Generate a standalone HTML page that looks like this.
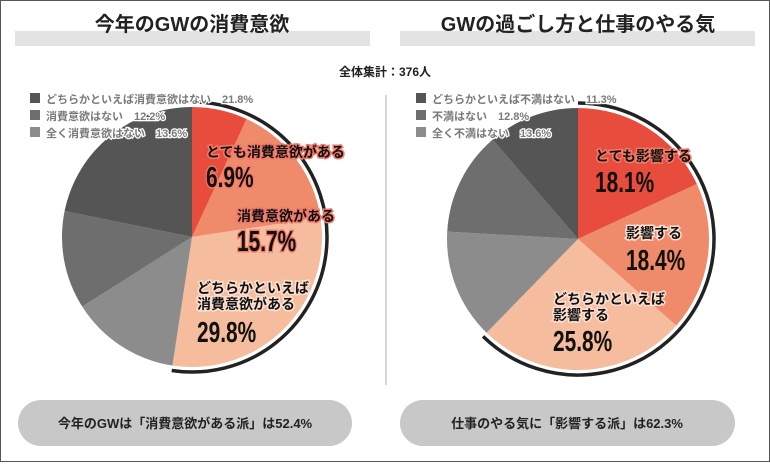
<!DOCTYPE html>
<html><head><meta charset="utf-8"><style>
html,body{margin:0;padding:0;background:#fff}
svg text{font-family:"Liberation Sans","Noto Sans CJK JP",sans-serif;font-weight:bold}
.lg{fill:#7a7a7a;stroke:#fff;stroke-width:2.5px;paint-order:stroke;font-size:11px}
.lb{fill:#111;stroke:#f07a6a;stroke-width:3px;paint-order:stroke;font-size:14px}
.lb2{fill:#111;stroke:#fbe0d2;stroke-width:3px;paint-order:stroke;font-size:14px}
.num{fill:#111;font-size:29px}
</style></head><body>
<svg id="s" width="770" height="462" viewBox="0 0 770 462" xmlns="http://www.w3.org/2000/svg">
<rect x="0.5" y="0.5" width="769" height="461" fill="#fff" stroke="#555"/>
<rect x="15" y="31" width="355" height="15" fill="#e3e3e3"/>
<rect x="400" y="31" width="355" height="15" fill="#e3e3e3"/>
<text x="192" y="31" text-anchor="middle" font-size="20" fill="#222">今年のGWの消費意欲</text>
<text x="578" y="31" text-anchor="middle" font-size="20" fill="#222">GWの過ごし方と仕事のやる気</text>
<text x="385" y="76" text-anchor="middle" font-size="12" fill="#222">全体集計：376人</text>
<line x1="386" y1="95" x2="386" y2="385" stroke="#ccc" stroke-width="1.5"/>
<g id="p1"></g><g id="p2"></g>
<rect x="18" y="400" width="334" height="46" rx="23" fill="#c8c8c8"/>
<rect x="400" y="400" width="335" height="46" rx="23" fill="#c8c8c8"/>
<text x="185" y="428" text-anchor="middle" font-size="13" fill="#222">今年のGWは「消費意欲がある派」は52.4%</text>
<text x="567" y="428" text-anchor="middle" font-size="13" fill="#222">仕事のやる気に「影響する派」は62.3%</text>
<g>
<rect x="30" y="93" width="10" height="10" fill="#555"/><text class="lg" x="46" y="103">どちらかといえば消費意欲はない　21.8%</text>
<rect x="30" y="110" width="10" height="10" fill="#6e6e6e"/><text class="lg" x="46" y="120">消費意欲はない　12.2%</text>
<rect x="30" y="127" width="10" height="10" fill="#8c8c8c"/><text class="lg" x="46" y="137">全く消費意欲はない　13.6%</text>
<rect x="416" y="93" width="10" height="10" fill="#555"/><text class="lg" x="432" y="103">どちらかといえば不満はない　11.3%</text>
<rect x="416" y="110" width="10" height="10" fill="#6e6e6e"/><text class="lg" x="432" y="120">不満はない　12.8%</text>
<rect x="416" y="127" width="10" height="10" fill="#8c8c8c"/><text class="lg" x="432" y="137">全く不満はない　13.6%</text>
</g>
<text class="lb" x="206" y="157">とても消費意欲がある</text>
<text class="num" transform="translate(206,187) scale(0.72,1)" stroke="#f07a6a" stroke-width="3" paint-order="stroke">6.9%</text>
<text class="lb" x="237" y="221">消費意欲がある</text>
<text class="num" transform="translate(237,251) scale(0.72,1)" stroke="#f07a6a" stroke-width="3" paint-order="stroke">15.7%</text>
<text class="lb2" x="197" y="293">どちらかといえば</text>
<text class="lb2" x="197" y="309">消費意欲がある</text>
<text class="num" transform="translate(197,342) scale(0.72,1)">29.8%</text>
<text class="lb" x="595" y="161">とても影響する</text>
<text class="num" transform="translate(595,192) scale(0.72,1)">18.1%</text>
<text class="lb2" x="626" y="238">影響する</text>
<text class="num" transform="translate(626,270) scale(0.72,1)">18.4%</text>
<text class="lb2" x="553" y="304">どちらかといえば</text>
<text class="lb2" x="553" y="320">影響する</text>
<text class="num" transform="translate(553,351) scale(0.72,1)">25.8%</text>
</svg>
<script>
var cols=["#e84c3d","#ef8a6a","#f5bd9d","#8c8c8c","#6e6e6e","#555555"];
function pt(cx,cy,r,f){var a=f*2*Math.PI;return [cx+r*Math.sin(a),cy-r*Math.cos(a)];}
function pie(id,cx,cy,r,vals,hi){var g=document.getElementById(id),s=0,h="";
vals.forEach(function(v,i){var a=pt(cx,cy,r,s/100),b=pt(cx,cy,r,(s+v)/100);
h+='<path d="M'+cx+' '+cy+' L'+a[0]+' '+a[1]+' A'+r+' '+r+' 0 '+(v>50?1:0)+' 1 '+b[0]+' '+b[1]+' Z" fill="'+cols[i]+'"/>';s+=v;});
var R=r+5,e=pt(cx,cy,R,hi/100);
h+='<path d="M'+cx+' '+(cy-R)+' A'+R+' '+R+' 0 '+(hi>50?1:0)+' 1 '+e[0]+' '+e[1]+'" fill="none" stroke="#222" stroke-width="3.5"/>';
g.innerHTML=h;}
pie("p1",192,237,130,[6.9,15.7,29.8,13.6,12.2,21.8],52.4);
pie("p2",578,239,131,[18.1,18.4,25.8,13.6,12.8,11.3],62.3);
</script>
</body></html>
